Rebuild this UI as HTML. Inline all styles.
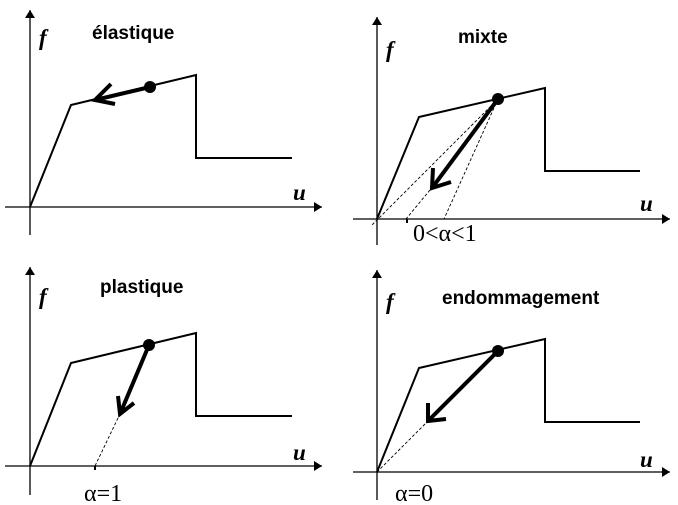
<!DOCTYPE html>
<html><head><meta charset="utf-8"><style>
body{margin:0;background:#fff}
svg{display:block}
.t{font-family:"Liberation Sans",sans-serif;font-weight:bold;font-size:19px}
.v{font-family:"Liberation Serif",serif;font-style:italic;font-weight:bold;font-size:23px}
.a{font-family:"Liberation Serif",serif;font-size:24px}
</style></head><body>
<svg width="678" height="505" viewBox="0 0 678 505" xmlns="http://www.w3.org/2000/svg">
<defs>
<marker id="ah" markerWidth="10" markerHeight="10" refX="8" refY="5" orient="auto" markerUnits="userSpaceOnUse">
<path d="M0,0 L8,5 L0,10 Z" fill="#000"/>
</marker>
</defs>
<g stroke="#000" stroke-width="1.3" fill="none">
<line x1="30" y1="235" x2="30" y2="10" marker-end="url(#ah)"/>
<line x1="5" y1="207" x2="322" y2="207" marker-end="url(#ah)"/>
<line x1="377" y1="245" x2="377" y2="17" marker-end="url(#ah)"/>
<line x1="353" y1="219" x2="670" y2="219" marker-end="url(#ah)"/>
<line x1="30" y1="495" x2="30" y2="267" marker-end="url(#ah)"/>
<line x1="5" y1="466" x2="322" y2="466" marker-end="url(#ah)"/>
<line x1="377" y1="500" x2="377" y2="270" marker-end="url(#ah)"/>
<line x1="353" y1="472" x2="670" y2="472" marker-end="url(#ah)"/>
</g>
<g stroke="#000" stroke-width="2" fill="none" stroke-linejoin="miter">
<polyline points="30,207 71,105 196,75 196,158 292,158"/>
<polyline points="377,219 419,117 545,88 545,171 640,171"/>
<polyline points="30,466 71,363 196,333 196,416 292,416"/>
<polyline points="377,472 419,368 545,339 545,422 640,422"/>
</g>
<g stroke="#000" stroke-width="0.9" stroke-dasharray="3,2" fill="none">
<line x1="498" y1="99" x2="371" y2="226"/>
<line x1="430" y1="190" x2="406" y2="219"/>
<line x1="498" y1="99" x2="444" y2="219"/>
<line x1="118" y1="418" x2="95" y2="466"/>
<line x1="425" y1="424" x2="377" y2="472"/>
</g>
<g stroke="#000" stroke-width="4" fill="none" stroke-linecap="butt">
<line x1="150" y1="87" x2="95" y2="100"/>
<polyline points="111,84 95,100 115,104"/>
<line x1="498" y1="99" x2="432" y2="188"/>
<polyline points="433,168 432,188 451,182"/>
<line x1="149" y1="345" x2="120" y2="414"/>
<polyline points="118,396 120,414 134,403"/>
<line x1="498" y1="351" x2="428" y2="421"/>
<polyline points="428,403 428,421 446,419"/>
</g>
<g fill="#000">
<circle cx="150" cy="87" r="6"/>
<circle cx="498" cy="99" r="6"/>
<circle cx="149" cy="345" r="6"/>
<circle cx="498" cy="351" r="6"/>
<rect x="406" y="219" width="2" height="4"/>
<rect x="94" y="466" width="2" height="4"/>
</g>
<text class="t" x="92" y="39">élastique</text>
<text class="t" x="458" y="43">mixte</text>
<text class="t" x="100" y="293">plastique</text>
<text class="t" x="442" y="304">endommagement</text>
<text class="v" x="39" y="45">f</text>
<text class="v" x="386" y="57">f</text>
<text class="v" x="39" y="304">f</text>
<text class="v" x="386" y="309">f</text>
<text class="v" x="293" y="200">u</text>
<text class="v" x="640" y="211">u</text>
<text class="v" x="293" y="460">u</text>
<text class="v" x="640" y="467">u</text>
<text class="a" x="413" y="241">0&lt;α&lt;1</text>
<text class="a" x="84" y="501">α=1</text>
<text class="a" x="395" y="501">α=0</text>
</svg>
</body></html>
